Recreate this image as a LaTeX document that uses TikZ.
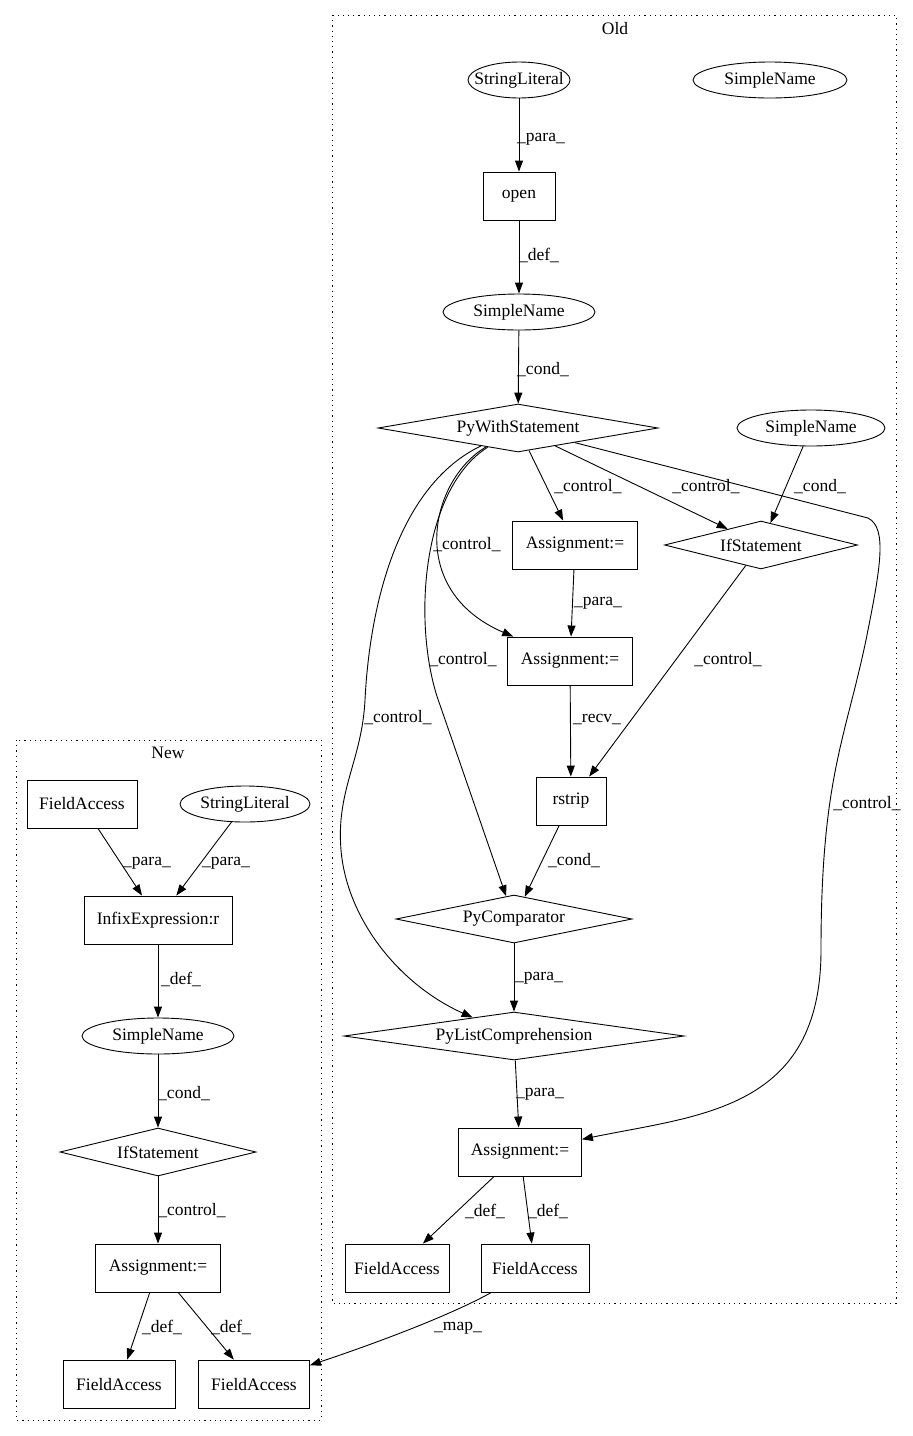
\documentclass[tikz,border=0pt]{standalone}
\usepackage{fontspec}
\setmainfont{Liberation Serif}
\usetikzlibrary{shapes.geometric,arrows.meta}
\newcommand{\zb}[1]{\makebox[0pt]{#1}}
\begin{document}
\begin{tikzpicture}[x=1pt,y=-1pt,
  font=\fontsize{17.5}{20}\selectfont,
  every node/.style={inner sep=0pt},
  box/.style={draw, line width=0.9pt, rectangle, minimum height=48, minimum width=#1},
  ell/.style={draw, line width=0.9pt, ellipse, minimum height=36, minimum width=#1},
  dia/.style={draw, line width=0.9pt, diamond, shape aspect=5, minimum height=48, minimum width=#1},
  edge/.style={draw, line width=0.9pt, -{Triangle[length=11pt,width=8pt]}},
  lbl/.style={inner sep=0pt},
  cluster/.style={draw, line width=0.9pt, dash pattern=on 1.2pt off 4pt}
]
\useasboundingbox (0,0) rectangle (913,1436);
% clusters
\draw[cluster] (332,15) rectangle (896,1303);
\node[lbl] (oldlbl) at (615,29) {Old};
\draw[cluster] (16,740) rectangle (321,1420);
\node[lbl] (newlbl) at (168,753) {New};

% Old nodes
\node[ell=102] (sl) at (519,80) {\zb{StringLiteral}};
\node[ell=154] (snA) at (770,80) {\zb{SimpleName}};
\node[box=72] (open) at (519,196) {\zb{open}};
\node[ell=152] (sn) at (519,312) {\zb{SimpleName}};
\node[dia=280] (pw) at (518,428) {\zb{PyWithStatement}};
\node[ell=148] (sn2) at (811,428) {\zb{SimpleName}};
\node[box=125] (as1) at (575,545) {\zb{Assignment:=}};
\node[dia=193] (if1) at (761,545) {\zb{IfStatement}};
\node[box=125] (as2) at (570,661) {\zb{Assignment:=}};
\node[box=70] (rs) at (571,801) {\zb{rstrip}};
\node[dia=236] (pc) at (514,919) {\zb{PyComparator}};
\node[dia=340] (pl) at (514,1036) {\zb{PyListComprehension}};
\node[box=123] (as3) at (520,1152) {\zb{Assignment:=}};
\node[box=104] (fa1) at (397,1268) {\zb{FieldAccess}};
\node[box=108] (fa2) at (535,1268) {\zb{FieldAccess}};

% New nodes
\node[box=110] (nfa) at (82,804) {\zb{FieldAccess}};
\node[ell=130] (nsl) at (245,804) {\zb{StringLiteral}};
\node[box=148] (nie) at (158,920) {\zb{InfixExpression:r}};
\node[ell=152] (nsn) at (158,1036) {\zb{SimpleName}};
\node[dia=196] (nif) at (158,1152) {\zb{IfStatement}};
\node[box=125] (nas) at (158,1268) {\zb{Assignment:=}};
\node[box=112] (nfa1) at (119,1384) {\zb{FieldAccess}};
\node[box=111] (nfa2) at (254,1384) {\zb{FieldAccess}};

% Old edges
\path[edge] (sl) -- (open);
\node[lbl] at (541,139) {\_para\_};
\path[edge] (open) -- (sn);
\node[lbl] at (539,255) {\_def\_};
\path[edge] (sn) -- (pw);
\node[lbl] at (543,370) {\_cond\_};
\path[edge] (pw) -- (as1);
\node[lbl] at (588,487) {\_control\_};
\path[edge] (pw) -- (if1);
\node[lbl] at (706,487) {\_control\_};
\path[edge] (sn2) -- (if1);
\node[lbl] at (820,487) {\_cond\_};
\path[edge] (as1) -- (as2);
\node[lbl] at (598,603) {\_para\_};
\path[edge] (if1) -- (rs);
\node[lbl] at (728,660) {\_control\_};
\path[edge] (as2) -- (rs);
\node[lbl] at (597,719) {\_recv\_};
\path[edge] (rs) -- (pc);
\node[lbl] at (574,861) {\_cond\_};
\path[edge] (pc) -- (pl);
\node[lbl] at (539,978) {\_para\_};
\path[edge] (pl) -- (as3);
\node[lbl] at (540,1094) {\_para\_};
\path[edge] (as3) -- (fa1);
\node[lbl] at (485,1211) {\_def\_};
\path[edge] (as3) -- (fa2);
\node[lbl] at (548,1211) {\_def\_};

% curved control edges from PyWithStatement
\path[edge] (pw) .. controls (430,480) and (405,590) .. (as2);
\node[lbl] at (467,545) {\_control\_};
\path[edge] (pw) .. controls (420,490) and (412,630) .. (440,705) -- (pc);
\node[lbl] at (463,660) {\_control\_};
\path[edge] (pw) .. controls (400,485) and (370,600) .. (365,700) .. controls (362,760) and (336,790) .. (341,850) .. controls (347,920) and (400,985) .. (pl);
\node[lbl] at (398,718) {\_control\_};
\coordinate (c1) at (868,518);
\path[edge] (pw) -- (c1) .. controls (888,528) and (880,570) .. (866,640) .. controls (845,740) and (821,780) .. (821,950) .. controls (821,1110) and (700,1115) .. (as3);
\node[lbl] at (867,804) {\_control\_};

% map edge
\path[edge] (fa2) .. controls (460,1310) and (400,1335) .. (nfa2);
\node[lbl] at (458,1328) {\_map\_};

% New edges
\path[edge] (nfa) -- (nie);
\node[lbl] at (147,863) {\_para\_};
\path[edge] (nsl) -- (nie);
\node[lbl] at (226,863) {\_para\_};
\path[edge] (nie) -- (nsn);
\node[lbl] at (181,979) {\_def\_};
\path[edge] (nsn) -- (nif);
\node[lbl] at (184,1094) {\_cond\_};
\path[edge] (nif) -- (nas);
\node[lbl] at (192,1211) {\_control\_};
\path[edge] (nas) -- (nfa1);
\node[lbl] at (162,1327) {\_def\_};
\path[edge] (nas) -- (nfa2);
\node[lbl] at (231,1327) {\_def\_};
\end{tikzpicture}
\end{document}
